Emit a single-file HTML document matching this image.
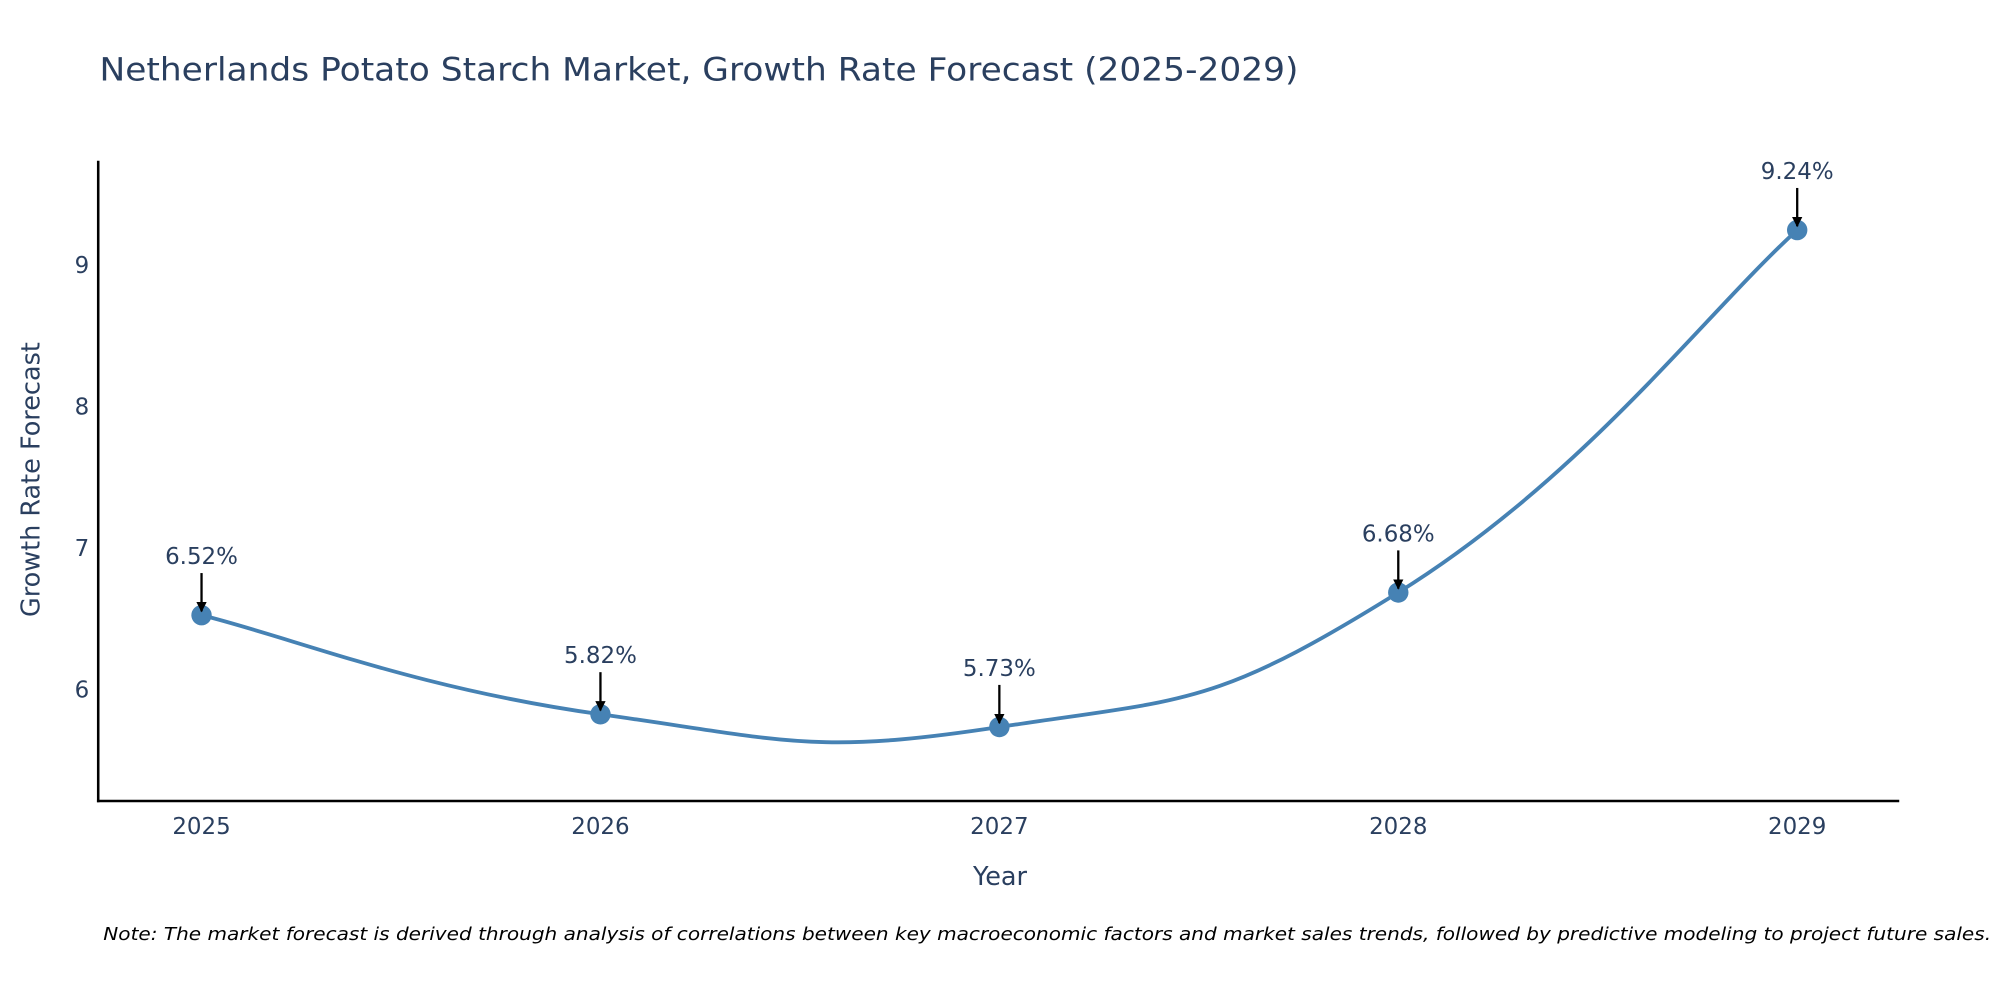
<!DOCTYPE html>
<html><head><meta charset="utf-8"><style>
html,body{margin:0;padding:0;background:#fff;}
svg{display:block;font-family:"DejaVu Sans","Liberation Sans",sans-serif;}
</style></head><body>
<svg id="chart" width="2000" height="1000" viewBox="0 0 1568 784" xmlns="http://www.w3.org/2000/svg">
<defs><marker id="ah" viewBox="0 0 10 10" refX="9" refY="5" markerWidth="4.5" markerHeight="4.5" orient="auto"><path d="M0,0 L10,5 L0,10 z" fill="#000"/></marker></defs>
<text x="78" y="63" font-size="25" fill="#2a3f5f" textLength="940" lengthAdjust="spacingAndGlyphs">Netherlands Potato Starch Market, Growth Rate Forecast (2025-2029)</text>
<g id="plot"></g>
<line x1="77" y1="126" x2="77" y2="629" stroke="#000" stroke-width="2"/>
<line x1="76" y1="628" x2="1489" y2="628" stroke="#000" stroke-width="2"/>
<text x="784" y="694" font-size="20" fill="#2a3f5f" text-anchor="middle">Year</text>
<text transform="translate(31,376) rotate(-90)" font-size="20" fill="#2a3f5f" text-anchor="middle">Growth Rate Forecast</text>
<text x="81" y="737" font-size="14" font-style="italic" fill="#000" textLength="1480" lengthAdjust="spacingAndGlyphs">Note: The market forecast is derived through analysis of correlations between key macroeconomic factors and market sales trends, followed by predictive modeling to project future sales.</text>
</svg>
<script>
const years = [2025, 2026, 2027, 2028, 2029];
const values = [6.52, 5.82, 5.73, 6.68, 9.24];
const labels = ["6.52%", "5.82%", "5.73%", "6.68%", "9.24%"];
const yTicks = [6, 7, 8, 9];

const NS = "http://www.w3.org/2000/svg";
const g = document.getElementById('plot');
const xs = v => 158 + (v - 2025) * 312.75;
const ys = v => 540 - (v - 6) * 111;
function mk(tag, attrs, parent) {
  const e = document.createElementNS(NS, tag);
  for (const k in attrs) e.setAttribute(k, attrs[k]);
  (parent || g).appendChild(e);
  return e;
}
yTicks.forEach(t => {
  const e = mk('text', {x: 70, y: ys(t) + 7, 'font-size': 18, fill: '#2a3f5f', 'text-anchor': 'end'});
  
  
  e.textContent = t;
});
years.forEach(y => {
  const e = mk('text', {x: xs(y), y: 654, 'font-size': 18, fill: '#2a3f5f', 'text-anchor': 'middle'});
  
  
  e.textContent = y;
});
const pts = years.map((y, i) => [xs(y), ys(values[i])]);
let d = `M${pts[0][0]},${pts[0][1]}`;
const t = 0.7;
for (let i = 0; i < pts.length - 1; i++) {
  const p0 = pts[Math.max(i - 1, 0)], p1 = pts[i], p2 = pts[i + 1], p3 = pts[Math.min(i + 2, pts.length - 1)];
  const c1 = [p1[0] + (p2[0] - p0[0]) * t / 3, p1[1] + (p2[1] - p0[1]) * t / 3];
  const c2 = [p2[0] - (p3[0] - p1[0]) * t / 3, p2[1] - (p3[1] - p1[1]) * t / 3];
  d += ` C${c1[0]},${c1[1]} ${c2[0]},${c2[1]} ${p2[0]},${p2[1]}`;
}
const line = mk('path', {d: d, fill: 'none', stroke: '#4682b4', 'stroke-width': 3});


pts.forEach((p, i) => {
  const c = mk('circle', {cx: p[0], cy: p[1], r: 8, fill: '#4682b4'});
  
  
  const a = mk('line', {x1: p[0], y1: p[1] - 33, x2: p[0], y2: p[1] - 3, stroke: '#000', 'stroke-width': 1.8, 'marker-end': 'url(#ah)'});
  
  
  const tx = mk('text', {x: p[0], y: p[1] -40, 'font-size': 18, fill: '#2a3f5f', 'text-anchor': 'middle'});
  
  
  tx.textContent = labels[i];
});
</script>
</body></html>
